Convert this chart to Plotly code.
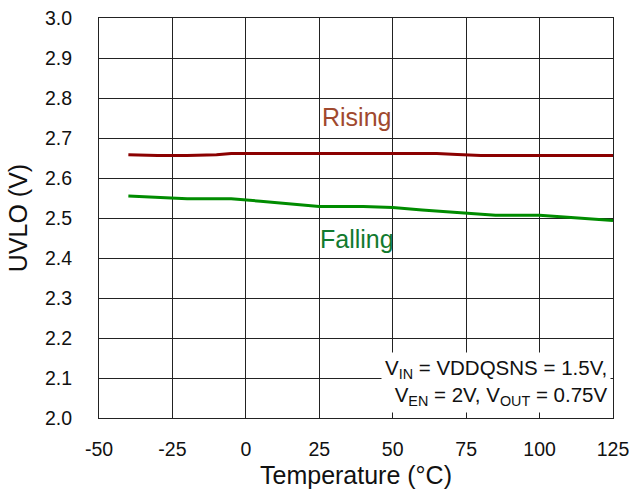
import plotly.graph_objects as go

rising_t = [-40, -30, -20, -10, -5, 10, 25, 40, 55, 65, 72, 80, 90, 100, 110, 125]
rising_v = [2.658, 2.656, 2.656, 2.658, 2.661, 2.661, 2.661, 2.661, 2.661, 2.661, 2.659, 2.656, 2.656, 2.656, 2.656, 2.656]

falling_t = [-40, -30, -20, -10, -5, 5, 15, 25, 40, 50, 60, 75, 85, 100, 110, 125]
falling_v = [2.555, 2.551, 2.548, 2.548, 2.548, 2.542, 2.535, 2.529, 2.529, 2.526, 2.520, 2.513, 2.507, 2.507, 2.502, 2.494]

x_ticks = [-50, -25, 0, 25, 50, 75, 100, 125]
y_ticks = [2.0, 2.1, 2.2, 2.3, 2.4, 2.5, 2.6, 2.7, 2.8, 2.9, 3.0]

fig = go.Figure()
fig.add_trace(go.Scatter(x=rising_t, y=rising_v, mode="lines",
                         line=dict(color="#8B0000", width=3), name="Rising"))
fig.add_trace(go.Scatter(x=falling_t, y=falling_v, mode="lines",
                         line=dict(color="#008C00", width=3), name="Falling"))

font_family = "Liberation Sans, Arial, sans-serif"
fig.update_layout(
    width=629, height=493,
    margin=dict(l=99, r=16, t=18, b=75, autoexpand=False),
    paper_bgcolor="white", plot_bgcolor="white",
    showlegend=False,
    font=dict(family=font_family, size=16, color="#111"),
    xaxis=dict(range=[-50, 125], tickvals=x_ticks, ticktext=[str(v) for v in x_ticks],
               showgrid=True, gridcolor="#222", gridwidth=1,
               showline=True, linecolor="#222", linewidth=1, mirror=True,
               zeroline=False, ticks="", ticklabelstandoff=14, automargin=False,
               ticklabeloverflow="allow",
               tickfont=dict(size=19.5),
               title=dict(text="Temperature (°C)", font=dict(size=25), standoff=7)),
    yaxis=dict(range=[2.0, 3.0], tickvals=y_ticks, ticktext=[f"{v:.1f}" for v in y_ticks],
               showgrid=True, gridcolor="#222", gridwidth=1,
               showline=True, linecolor="#222", linewidth=1, mirror=True,
               zeroline=False, ticks="", ticklabelstandoff=22, automargin=False,
               ticklabeloverflow="allow",
               tickfont=dict(size=19.5),
               title=dict(text="UVLO (V)", font=dict(size=25), standoff=10)),
    annotations=[
        dict(x=37.6, y=2.7525, xref="x", yref="y", text="Rising", showarrow=False,
             xanchor="center", yanchor="middle", font=dict(size=25, color="#A0492E")),
        dict(x=38, y=2.4475, xref="x", yref="y", text="Falling", showarrow=False,
             xanchor="center", yanchor="middle", font=dict(size=25, color="#117A2E")),
        dict(x=1, y=0.012, xref="paper", yref="paper",
             text="V<sub>IN</sub> = VDDQSNS = 1.5V,<br>V<sub>EN</sub> = 2V, V<sub>OUT</sub> = 0.75V",
             showarrow=False, xanchor="right", yanchor="bottom", align="right",
             bgcolor="white", borderpad=3, xshift=-2,
             font=dict(size=20.5, color="#111")),
    ],
)

fig.write_html("out.html", config={"displayModeBar": False},
               post_script="document.body.style.margin='0';")
